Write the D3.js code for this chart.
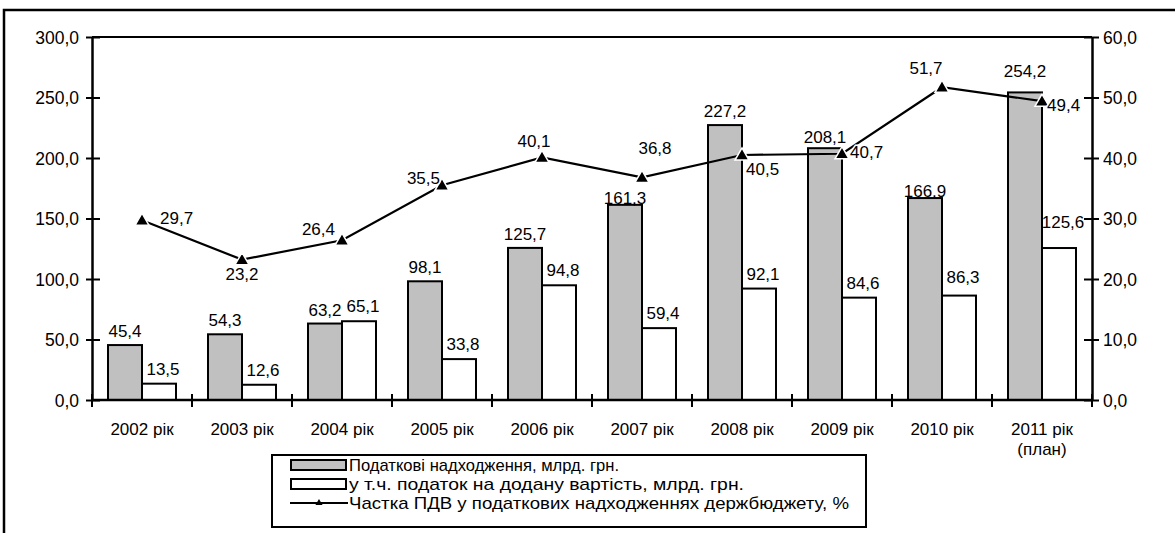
<!DOCTYPE html>
<html>
<head>
<meta charset="utf-8">
<script src="https://cdn.jsdelivr.net/npm/d3@7/dist/d3.min.js"></script>
<style>
  html, body { margin: 0; padding: 0; background: #fff; }
  svg { display: block; font-family: "Liberation Sans", Arial, sans-serif; }
</style>
</head>
<body>
<svg id="chart" width="1175" height="533"></svg>
<script>
// Податкові надходження та ПДВ державного бюджету, 2002–2011
const years = ["2002 рік", "2003 рік", "2004 рік", "2005 рік", "2006 рік",
               "2007 рік", "2008 рік", "2009 рік", "2010 рік", "2011 рік"];
const taxRevenue = [45.4, 54.3, 63.2, 98.1, 125.7, 161.3, 227.2, 208.1, 166.9, 254.2];
const vatRevenue = [13.5, 12.6, 65.1, 33.8, 94.8, 59.4, 92.1, 84.6, 86.3, 125.6];
const vatShare = [29.7, 23.2, 26.4, 35.5, 40.1, 36.8, 40.5, 40.7, 51.7, 49.4];
const leftTicks = [0, 50, 100, 150, 200, 250, 300];
const rightTicks = [0, 10, 20, 30, 40, 50, 60];
const legendLabels = [
  "Податкові надходження, млрд. грн.",
  "у т.ч. податок на додану вартість, млрд. грн.",
  "Частка ПДВ у податкових надходженнях держбюджету, %"
];

const fmt = v => d3.format(".1f")(v).replace(".", ",");

const svg = d3.select("#chart");

// outer frame
svg.append("rect")
  .attr("x", 4).attr("y", 10).attr("width", 1200).attr("height", 600)
  .attr("fill", "none").attr("stroke", "#000").attr("stroke-width", 2.5);

const plot = { left: 92, right: 1092, top: 37, bottom: 400 };

const x = d3.scaleBand().domain(years).range([plot.left, plot.right]).padding(0);
const yL = d3.scaleLinear().domain([0, 300]).range([plot.bottom, plot.top]);
const yR = d3.scaleLinear().domain([0, 60]).range([plot.bottom, plot.top]);

const barW = 34;
const barGap = 16;

// plot top border
svg.append("line")
  .attr("x1", plot.left).attr("x2", plot.right)
  .attr("y1", plot.top).attr("y2", plot.top)
  .attr("stroke", "#000").attr("stroke-width", 2);

// bars
const groups = svg.append("g").selectAll("g").data(years).join("g");

groups.append("rect")
  .attr("x", d => x(d) + barGap)
  .attr("y", (d, i) => yL(taxRevenue[i]))
  .attr("width", barW)
  .attr("height", (d, i) => yL(0) - yL(taxRevenue[i]))
  .attr("fill", "#c0c0c0").attr("stroke", "#000").attr("stroke-width", 2);

groups.append("rect")
  .attr("x", d => x(d) + barGap + barW)
  .attr("y", (d, i) => yL(vatRevenue[i]))
  .attr("width", barW)
  .attr("height", (d, i) => yL(0) - yL(vatRevenue[i]))
  .attr("fill", "#fff").attr("stroke", "#000").attr("stroke-width", 2);

// axes
function styleAxis(g) {
  g.selectAll("path.domain").attr("stroke", "#000").attr("stroke-width", 2.5);
  g.selectAll(".tick line").attr("stroke", "#000").attr("stroke-width", 2);
  g.selectAll(".tick text").attr("fill", "#000").style("font-size", "17.5px")
    .style("font-family", "'Liberation Sans', Arial, sans-serif");
}

const axL = svg.append("g").attr("transform", `translate(${plot.left},0)`)
  .call(d3.axisLeft(yL).tickValues(leftTicks).tickFormat(fmt).tickSizeInner(6).tickSizeOuter(0).tickPadding(7));
axL.selectAll(".tick line").attr("x2", 8).attr("x1", -6);
styleAxis(axL);
axL.selectAll(".tick text").attr("dy", "0.36em");

const axR = svg.append("g").attr("transform", `translate(${plot.right},0)`)
  .call(d3.axisRight(yR).tickValues(rightTicks).tickFormat(fmt).tickSizeInner(7).tickSizeOuter(0).tickPadding(4));
axR.selectAll(".tick line").attr("x1", -8).attr("x2", 7);
styleAxis(axR);
axR.selectAll(".tick text").attr("dy", "0.36em");

// category axis with boundary ticks
svg.append("line")
  .attr("x1", plot.left).attr("x2", plot.right)
  .attr("y1", plot.bottom).attr("y2", plot.bottom)
  .attr("stroke", "#000").attr("stroke-width", 2.5);
const bounds = years.map(d => x(d)).concat([plot.right]);
svg.append("g").selectAll("line").data(bounds).join("line")
  .attr("x1", d => d).attr("x2", d => d)
  .attr("y1", plot.bottom - 6).attr("y2", plot.bottom + 7)
  .attr("stroke", "#000").attr("stroke-width", 2);

svg.append("g").selectAll("text").data(years).join("text")
  .attr("x", d => x(d) + x.bandwidth() / 2)
  .attr("y", 435)
  .attr("text-anchor", "middle")
  .style("font-size", "17px")
  .text(d => d);
svg.append("text")
  .attr("x", x(years[years.length - 1]) + x.bandwidth() / 2)
  .attr("y", 455)
  .attr("text-anchor", "middle")
  .style("font-size", "17px")
  .text("(план)");

// bar value labels
const taxLift = { "2007 рік": 1, "2009 рік": 5, "2010 рік": 1, "2011 рік": 15 };
const vatLift = { "2010 рік": 13, "2011 рік": 20 };

svg.append("g").selectAll("text").data(years).join("text")
  .attr("x", d => x(d) + barGap + barW / 2)
  .attr("y", (d, i) => yL(taxRevenue[i]) - (taxLift[d] ?? 8))
  .attr("text-anchor", "middle")
  .style("font-size", "17px")
  .text((d, i) => fmt(taxRevenue[i]));

svg.append("g").selectAll("text").data(years).join("text")
  .attr("x", d => x(d) + barGap + barW * 1.5 + 4)
  .attr("y", (d, i) => yL(vatRevenue[i]) - (vatLift[d] ?? 9))
  .attr("text-anchor", "middle")
  .style("font-size", "17px")
  .text((d, i) => fmt(vatRevenue[i]));

// VAT share line
const cx = d => x(d) + x.bandwidth() / 2;
const line = d3.line().x((d, i) => cx(years[i])).y(d => yR(d));
svg.append("path").datum(vatShare)
  .attr("d", line)
  .attr("fill", "none").attr("stroke", "#000").attr("stroke-width", 2.2);

const tri = d3.symbol().type(d3.symbolTriangle).size(85);
svg.append("g").selectAll("path").data(vatShare).join("path")
  .attr("transform", (d, i) => `translate(${cx(years[i])},${yR(d) + 1})`)
  .attr("d", tri)
  .attr("fill", "#000").attr("stroke", "#fff").attr("stroke-width", 1.5);

// share labels placed around their markers
const sharePlace = [
  { anchor: "start", dx: 18, dy: 4 },
  { anchor: "middle", dx: 0, dy: 20 },
  { anchor: "end", dx: -7, dy: -5 },
  { anchor: "end", dx: -2, dy: -1 },
  { anchor: "middle", dx: -8, dy: -10 },
  { anchor: "middle", dx: 13, dy: -23 },
  { anchor: "start", dx: 4, dy: 20 },
  { anchor: "start", dx: 8, dy: 4 },
  { anchor: "middle", dx: -16, dy: -13 },
  { anchor: "start", dx: 5, dy: 10 }
];
svg.append("g").selectAll("text").data(vatShare).join("text")
  .attr("x", (d, i) => cx(years[i]) + sharePlace[i].dx)
  .attr("y", (d, i) => yR(d) + sharePlace[i].dy)
  .attr("text-anchor", (d, i) => sharePlace[i].anchor)
  .style("font-size", "17px")
  .attr("paint-order", "stroke")
  .attr("stroke", "#fff").attr("stroke-width", 3)
  .text(d => fmt(d));

// legend
const lg = svg.append("g");
lg.append("rect")
  .attr("x", 272).attr("y", 455).attr("width", 594).attr("height", 72)
  .attr("fill", "#fff").attr("stroke", "#000").attr("stroke-width", 2);
const rowY = [465, 484, 503];
const rowWidth = [270, 395, 500];
lg.append("rect").attr("x", 291).attr("y", rowY[0] - 5).attr("width", 55).attr("height", 10)
  .attr("fill", "#c0c0c0").attr("stroke", "#000").attr("stroke-width", 2);
lg.append("rect").attr("x", 291).attr("y", rowY[1] - 5).attr("width", 55).attr("height", 10)
  .attr("fill", "#fff").attr("stroke", "#000").attr("stroke-width", 2);
lg.append("line").attr("x1", 290).attr("x2", 348).attr("y1", rowY[2]).attr("y2", rowY[2])
  .attr("stroke", "#000").attr("stroke-width", 2);
lg.append("path").attr("d", d3.symbol().type(d3.symbolTriangle).size(22)())
  .attr("transform", `translate(319,${rowY[2]})`).attr("fill", "#000");
lg.selectAll("text.lbl").data(legendLabels).join("text")
  .attr("class", "lbl")
  .attr("x", 349)
  .attr("y", (d, i) => rowY[i] + 6)
  .attr("textLength", (d, i) => rowWidth[i])
  .attr("lengthAdjust", "spacingAndGlyphs")
  .style("font-size", "17px")
  .text(d => d);
</script>
</body>
</html>
